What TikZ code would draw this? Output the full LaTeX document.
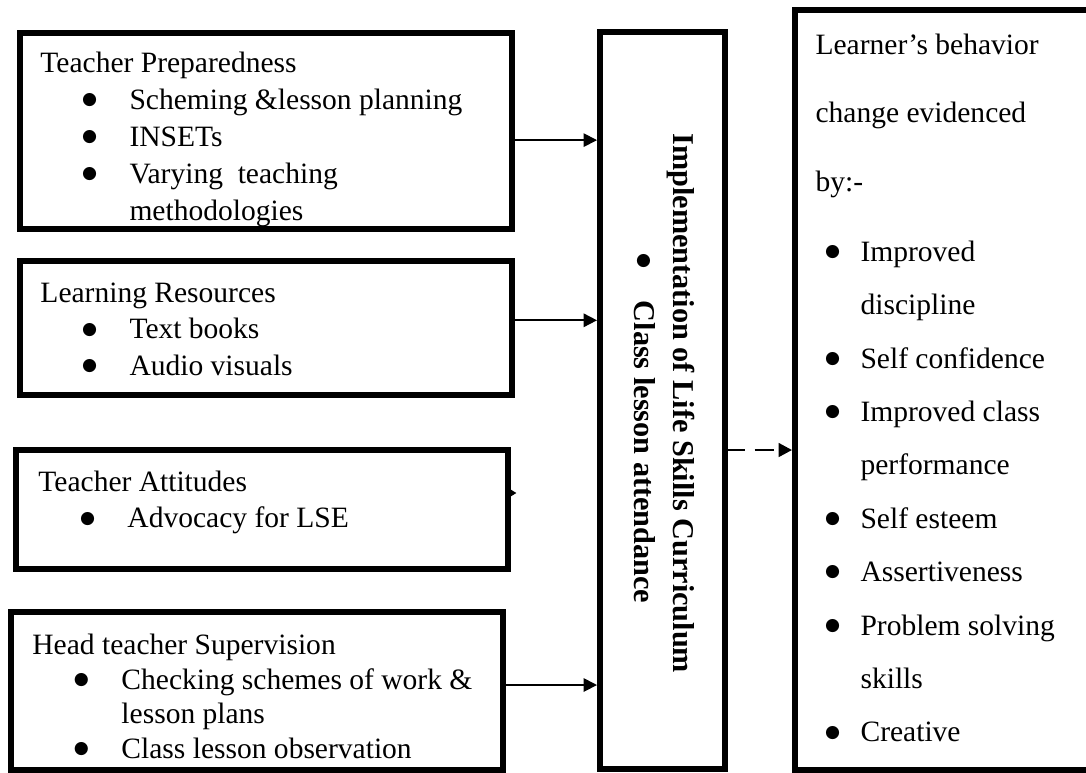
\documentclass[tikz,border=0pt]{standalone}
\usepackage{fontspec}
\setmainfont{Liberation Serif}
\newfontfamily\dotfont{DejaVu Sans}
\usetikzlibrary{arrows.meta}
\newcommand{\bdot}{\raisebox{2pt}{\dotfont\fontsize{7pt}{7pt}\selectfont ●}}
\newcommand{\bitem}{\hspace*{16.9pt}\makebox[19.3pt][l]{\bdot}}
\newcommand{\bcont}{\hspace*{36.2pt}}
\newcommand{\ritem}{\hspace*{3.9pt}\makebox[14.4pt][l]{\bdot}}
\newcommand{\rcont}{\hspace*{18.3pt}}
\begin{document}
\begin{tikzpicture}[
  box/.style={draw,line width=2.4pt,outer sep=0pt,minimum width=7.03cm},
  txt/.style={anchor=north west,inner sep=0pt,align=left,font=\fontsize{12pt}{15pt}\selectfont},
  arr/.style={-{Triangle[length=5.5pt,width=5.5pt]},line width=.7pt,shorten >=1.2pt}]
\clip (0,0) rectangle (15.514,11.029);
\node[box,minimum height=2.80cm] (prep) at (3.80,9.157) {};
\node[box,minimum height=1.914cm] (res) at (3.80,6.343) {};
\node[box,minimum height=1.70cm] (att) at (3.743,3.75) {};
\node[box,minimum height=2.257cm] (sup) at (3.671,1.157) {};
\node[box,minimum width=1.786cm,minimum height=10.53cm] (impl) at (9.464,5.307) {};
\node[box,minimum width=4.357cm,minimum height=10.857cm] (out) at (13.536,5.457) {};
\node[txt] (preptxt) at ([shift={(.286,-.271)}]prep.north west) {Teacher Preparedness\\ \bitem Scheming \&lesson planning\\ \bitem INSETs\\ \bitem Varying~ teaching\\ \bcont methodologies};
\node[txt] (restxt) at ([shift={(.286,-.30)}]res.north west) {Learning Resources\\ \bitem Text books\\ \bitem Audio visuals};
\node[txt] (atttxt) at ([shift={(.314,-.286)}]att.north west) {Teacher Attitudes\\ \bitem Advocacy for LSE};
\node[txt,font=\fontsize{12pt}{14pt}\selectfont] (suptxt) at ([shift={(.30,-.31)}]sup.north west) {Head teacher Supervision\\ \bitem Checking schemes of work \&\\ \bcont lesson plans\\ \bitem Class lesson observation};
\node[rotate=-90,anchor=north west,inner sep=0pt,align=left,font=\fontsize{12.3pt}{16pt}\selectfont\bfseries] (impltxt) at ([shift={(.47,-1.443)}]impl.north) {Implementation of Life Skills Curriculum\\ \hspace*{48.6pt}\makebox[19.4pt][l]{\bdot}Class lesson attendance};
\node[txt,font=\fontsize{12pt}{21.7pt}\selectfont] (outtxt) at ([shift={(.286,-.329)}]out.north west) {Learner’s behavior\\[6.2pt] change evidenced\\[6.2pt] by:-\\[6.8pt] \ritem Improved\\ \rcont discipline\\ \ritem Self confidence\\ \ritem Improved class\\ \rcont performance\\ \ritem Self esteem\\ \ritem Assertiveness\\ \ritem Problem solving\\ \rcont skills\\ \ritem Creative};
\coordinate (atttip) at ([shift={(.12,.236)}]att.east);
\draw[arr] ([yshift=-.13cm]prep.east) -- ([yshift=-.13cm]prep.east -| impl.west);
\draw[arr] ([yshift=.11cm]res.east) -- ([yshift=.11cm]res.east -| impl.west);
\draw[-{Triangle[length=3pt,width=3.4pt]},line width=.7pt] ([yshift=.236cm]att.east) -- (atttip);
\draw[arr] ([yshift=.086cm]sup.east) -- ([yshift=.086cm]sup.east -| impl.west);
\draw[arr,line width=1.2pt,dash pattern=on 8pt off 4pt] ([yshift=-.707cm]impl.east) -- ([yshift=-.707cm]impl.east -| out.west);
\end{tikzpicture}
\end{document}
